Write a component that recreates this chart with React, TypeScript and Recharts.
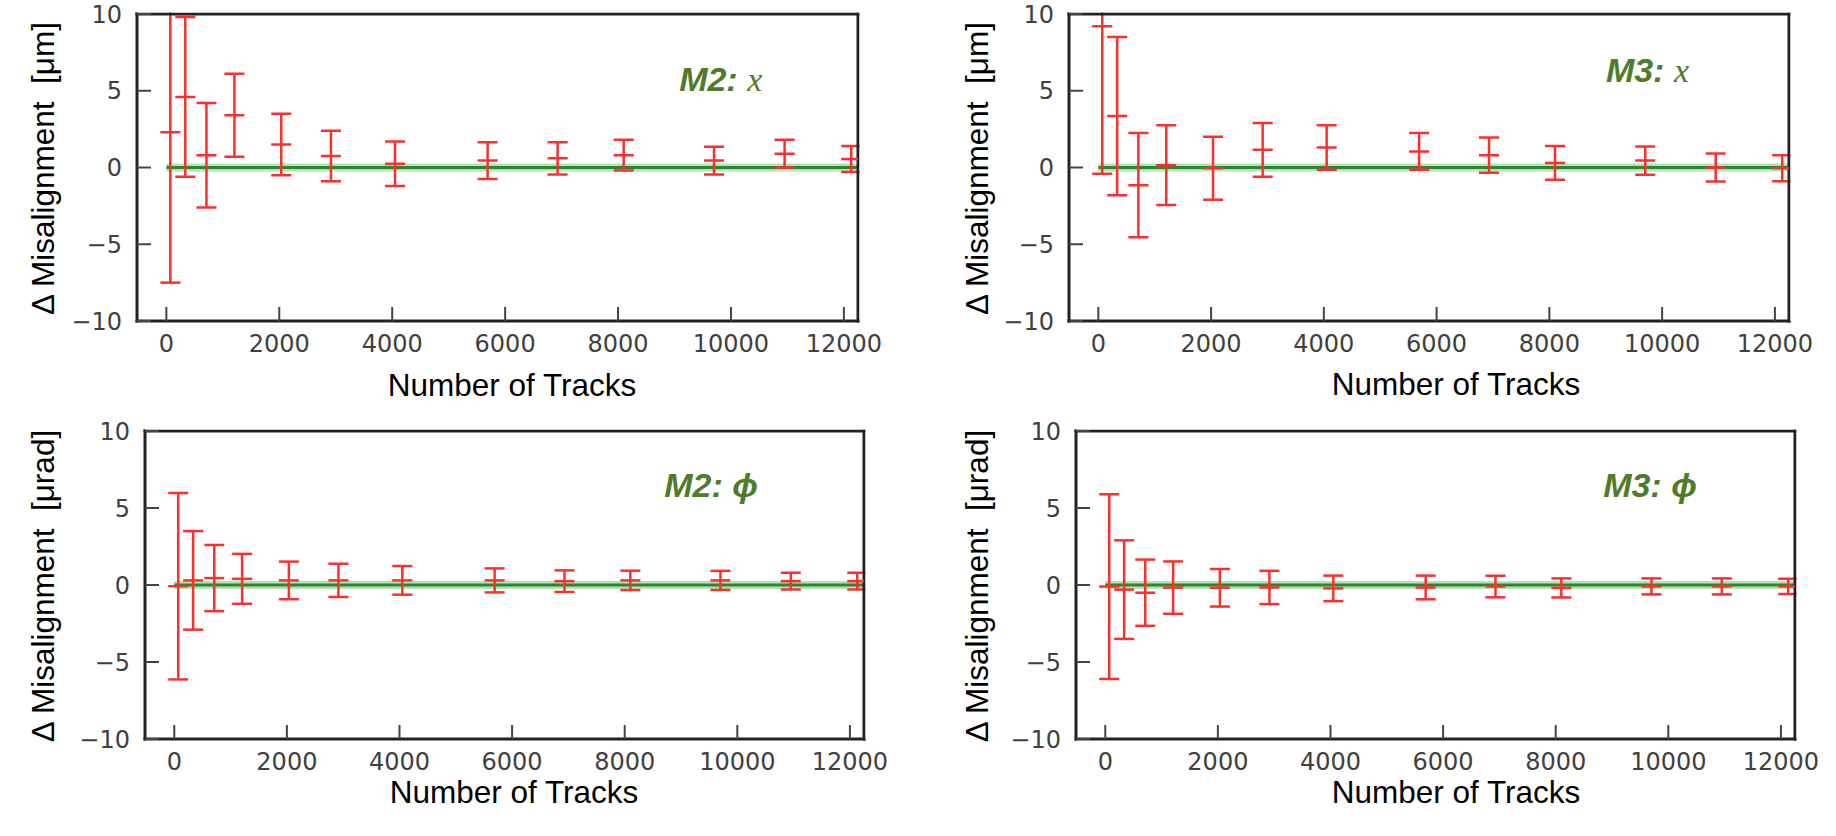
import React from 'react'
import { ComposedChart, Scatter, ErrorBar, XAxis, YAxis, ReferenceLine, ReferenceDot } from 'recharts'

// number of tracks used for each alignment step
const tracks = [70, 335, 710, 1205, 2035, 2915, 4050, 5690, 6930, 8100, 9700, 10950, 12130]

// M2, x shift [um]
const m2xShift = [2.3, 4.6, 0.8, 3.4, 1.5, 0.75, 0.25, 0.45, 0.6, 0.8, 0.45, 0.9, 0.55]
const m2xError = [9.8, 5.2, 3.4, 2.7, 2.0, 1.65, 1.45, 1.2, 1.05, 1.0, 0.9, 0.9, 0.85]

// M3, x shift [um]
const m3xShift = [9.2, 3.35, -1.15, 0.15, -0.05, 1.15, 1.3, 1.05, 0.8, 0.3, 0.45, 0.0, -0.05]
const m3xError = [9.6, 5.15, 3.4, 2.6, 2.05, 1.75, 1.45, 1.2, 1.15, 1.1, 0.92, 0.92, 0.85]

// M2, phi rotation [urad]
const m2phiShift = [-0.08, 0.3, 0.45, 0.4, 0.3, 0.3, 0.3, 0.3, 0.25, 0.3, 0.3, 0.25, 0.25]
const m2phiError = [6.05, 3.2, 2.15, 1.62, 1.22, 1.08, 0.93, 0.78, 0.7, 0.63, 0.62, 0.55, 0.55]

// M3, phi rotation [urad]
const m3phiShift = [-0.1, -0.3, -0.5, -0.17, -0.18, -0.16, -0.22, -0.16, -0.1, -0.19, -0.09, -0.09, -0.09]
const m3phiError = [6.0, 3.2, 2.15, 1.7, 1.22, 1.08, 0.83, 0.77, 0.7, 0.62, 0.52, 0.52, 0.5]

const xTicks = [0, 2000, 4000, 6000, 8000, 10000, 12000]
const yTicks = [-10, -5, 0, 5, 10]
const xDomain = [-520, 12250]
const yDomain = [-10, 10]

const W = 918
const H = 418
const RED = '#ff2e2e'
const GREEN_TEXT = '#4f7b2a'
const LABEL_FONT = "'Liberation Sans', Arial, sans-serif"
const TICK_FONT = "'DejaVu Sans', sans-serif"

const axisLine = { stroke: '#222', strokeWidth: 3, strokeLinecap: 'square' as const }
const tickLine = { stroke: '#444', strokeWidth: 2 }
const tickText = { fill: '#404040', fontSize: 24, fontFamily: TICK_FONT }

const fmtY = (v: number) => (v < 0 ? `\u2212${-v}` : `${v}`)

function Dash(props: any) {
  const { cx, cy } = props
  if (cx == null || cy == null) return null
  return <line x1={cx - 10} x2={cx + 10} y1={cy} y2={cy} stroke={RED} strokeWidth={2.5} />
}

interface PanelProps {
  values: number[]
  errors: number[]
  unit: string
  name: string
  symbol: string
  serif: boolean
  box: { left: number; right: number; top: number; bottom: number }
  yLabelX: number
  xLabelX: number
  xLabelY: number
  note: { x: number; y: number }
}

function Panel({ values, errors, unit, name, symbol, serif, box, yLabelX, xLabelX, xLabelY, note }: PanelProps) {
  const data = tracks.map((x, i) => ({ x, y: values[i], err: errors[i] }))
  const midY = (box.top + box.bottom) / 2 + 1
  // error bars that run past the frame are cut off at the frame, as in the original figure
  const t = box.top - 1.5
  const r = box.right + 1.5
  const clip = `polygon(0px 0px, ${box.left}px 0px, ${box.left}px ${t}px, ${r}px ${t}px, ${r}px ${box.bottom}px, ${W}px ${box.bottom}px, ${W}px ${H}px, 0px ${H}px)`

  return (
    <div style={{ width: W, height: H, clipPath: clip }}>
      <ComposedChart
        width={W}
        height={H}
        data={data}
        margin={{ top: box.top - 1, left: box.left - 1, right: W - box.right - 1, bottom: H - box.bottom - 1 }}
      >
        <XAxis
          dataKey="x"
          type="number"
          domain={xDomain}
          allowDataOverflow
          ticks={xTicks}
          interval={0}
          height={1}
          stroke="#333"
          tickSize={-14}
          tickMargin={28}
          axisLine={axisLine}
          tickLine={tickLine}
          tick={tickText}
          label={() => (
            <text x={xLabelX} y={xLabelY} textAnchor="middle" fontFamily={LABEL_FONT} fontSize={31.5} fill="#000">
              Number of Tracks
            </text>
          )}
        />
        <XAxis
          xAxisId="top"
          orientation="top"
          type="number"
          domain={xDomain}
          allowDataOverflow
          ticks={xTicks}
          interval={0}
          height={1}
          stroke="#333"
          tick={false}
          tickSize={-14}
          axisLine={axisLine}
          tickLine={tickLine}
        />
        <YAxis
          type="number"
          domain={yDomain}
          allowDataOverflow
          ticks={yTicks}
          interval={0}
          width={1}
          stroke="#333"
          tickSize={-14}
          tickMargin={29}
          tickFormatter={fmtY}
          axisLine={axisLine}
          tickLine={tickLine}
          tick={tickText}
          label={() => (
            <text
              x={yLabelX}
              y={midY}
              transform={`rotate(-90 ${yLabelX} ${midY})`}
              textAnchor="middle"
              fontFamily={LABEL_FONT}
              fontSize={31.5}
              fill="#000"
              style={{ whiteSpace: 'pre' }}
            >
              {`\u0394 Misalignment  [\u03bc${unit}]`}
            </text>
          )}
        />
        <YAxis
          yAxisId="right"
          orientation="right"
          type="number"
          domain={yDomain}
          allowDataOverflow
          ticks={yTicks}
          interval={0}
          width={1}
          stroke="#333"
          tick={false}
          tickSize={-14}
          axisLine={axisLine}
          tickLine={tickLine}
        />
        <ReferenceLine
          segment={[{ x: 0, y: 0 }, { x: xDomain[1], y: 0 }]}
          stroke="#86d086"
          strokeOpacity={0.6}
          strokeWidth={8}
        />
        <ReferenceLine segment={[{ x: 0, y: 0 }, { x: xDomain[1], y: 0 }]} stroke="#2c8530" strokeWidth={3} />
        <Scatter dataKey="y" shape={<Dash />} isAnimationActive={false}>
          <ErrorBar dataKey="err" direction="y" width={10} stroke={RED} strokeWidth={2.5} isAnimationActive={false} />
        </Scatter>
        <ReferenceDot
          x={note.x}
          y={note.y}
          r={1}
          fill="none"
          stroke="none"
          label={(p: any) => (
            <text
              x={p.viewBox.x}
              y={p.viewBox.y}
              fontFamily={LABEL_FONT}
              fontWeight="bold"
              fontStyle="italic"
              fontSize={34}
              fill={GREEN_TEXT}
            >
              <tspan>{`${name}: `}</tspan>
              <tspan
                fontFamily={serif ? "'Liberation Serif', 'Times New Roman', serif" : LABEL_FONT}
                fontWeight={serif ? 'normal' : 'bold'}
              >
                {symbol}
              </tspan>
            </text>
          )}
        />
      </ComposedChart>
    </div>
  )
}

export default function App() {
  return (
    <div style={{ position: 'absolute', left: 0, top: 0, width: 1836, height: 836, background: '#fff' }}>
      <div style={{ position: 'absolute', left: 0, top: 0 }}>
        <Panel
          values={m2xShift}
          errors={m2xError}
          unit="m"
          name="M2"
          symbol="x"
          serif
          box={{ left: 137, right: 858, top: 14, bottom: 321 }}
          yLabelX={54}
          xLabelX={512}
          xLabelY={396}
          note={{ x: 9100, y: 4.92 }}
        />
      </div>
      <div style={{ position: 'absolute', left: 918, top: 0 }}>
        <Panel
          values={m3xShift}
          errors={m3xError}
          unit="m"
          name="M3"
          symbol="x"
          serif
          box={{ left: 151, right: 871, top: 14, bottom: 321 }}
          yLabelX={70}
          xLabelX={538}
          xLabelY={395}
          note={{ x: 9020, y: 5.5 }}
        />
      </div>
      <div style={{ position: 'absolute', left: 0, top: 418 }}>
        <Panel
          values={m2phiShift}
          errors={m2phiError}
          unit="rad"
          name="M2"
          symbol={'\u03d5'}
          serif={false}
          box={{ left: 145, right: 864, top: 13, bottom: 321 }}
          yLabelX={54}
          xLabelX={514}
          xLabelY={385}
          note={{ x: 8720, y: 5.65 }}
        />
      </div>
      <div style={{ position: 'absolute', left: 918, top: 418 }}>
        <Panel
          values={m3phiShift}
          errors={m3phiError}
          unit="rad"
          name="M3"
          symbol={'\u03d5'}
          serif={false}
          box={{ left: 158, right: 877, top: 13, bottom: 321 }}
          yLabelX={70}
          xLabelX={538}
          xLabelY={385}
          note={{ x: 8860, y: 5.65 }}
        />
      </div>
    </div>
  )
}
